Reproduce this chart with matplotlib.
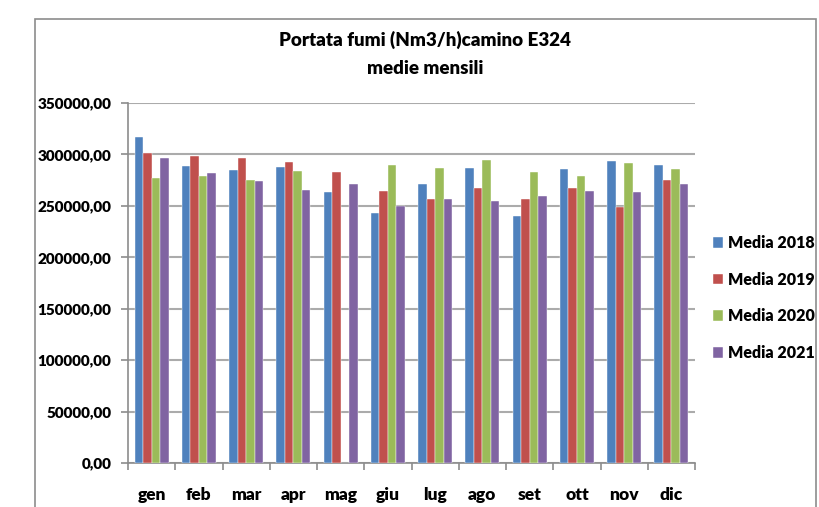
import numpy as np
import matplotlib.pyplot as plt
from matplotlib.patches import Rectangle
from matplotlib.ticker import FuncFormatter

plt.rcParams['font.family'] = ['Lato', 'DejaVu Sans']

mesi = ['gen', 'feb', 'mar', 'apr', 'mag', 'giu', 'lug', 'ago', 'set', 'ott', 'nov', 'dic']
media_2018 = [316600, 288300, 284400, 287600, 263900, 243500, 271000, 287000, 240500, 285400, 293800, 289600]
media_2019 = [301600, 298300, 296700, 292500, 282500, 264900, 257100, 267100, 257100, 267100, 248900, 275000]
media_2020 = [277200, 278600, 274900, 283700, 0, 289600, 287000, 294400, 282500, 279500, 291800, 286000]
media_2021 = [296100, 281800, 274300, 265200, 271700, 249900, 257100, 254500, 259400, 264500, 263300, 270800]

serie = [('Media 2018', media_2018, '#4F81BD'),
         ('Media 2019', media_2019, '#C0504D'),
         ('Media 2020', media_2020, '#9BBB59'),
         ('Media 2021', media_2021, '#8064A2')]

PESO = 'heavy'

fig = plt.figure(figsize=(8.19, 5.07), dpi=100)
W, H = 819, 507

# cornice grigia attorno al grafico
fig.patches.append(Rectangle((35 / W, -0.05), (816 - 35) / W, (507 - 19) / H + 0.05,
                             transform=fig.transFigure, fill=False,
                             edgecolor='#8C8C8C', linewidth=1.2))

ax = fig.add_axes([128 / W, 1 - 463 / H, (695 - 128) / W, (463 - 103) / H])

x = np.arange(len(mesi))
w = 0.18
for i, (nome, valori, colore) in enumerate(serie):
    ax.bar(x + (i - 1.5) * w, valori, w, color=colore, label=nome,
           edgecolor='white', linewidth=0.3, zorder=3)

ax.set_xlim(-0.5, len(mesi) - 0.5)
ax.set_ylim(0, 350000)
ax.set_yticks(np.arange(0, 350001, 50000))
ax.yaxis.set_major_formatter(FuncFormatter(lambda v, p: ('%.2f' % v).replace('.', ',')))
ax.set_xticks(x)
ax.set_xticklabels(mesi)
ax.set_xticks(np.arange(-0.5, len(mesi)), minor=True)
ax.tick_params(axis='x', which='major', length=0, pad=17, labelsize=12.5)
ax.tick_params(axis='x', which='minor', length=5, color='#8C8C8C', width=1.2)
ax.tick_params(axis='y', length=5, color='#8C8C8C', width=1.2, pad=7, labelsize=11)
for lab in ax.get_xticklabels() + ax.get_yticklabels():
    lab.set_fontweight(PESO)

ax.grid(axis='y', color='#ABABAB', linewidth=1.5, zorder=0)
for s in ['top', 'right']:
    ax.spines[s].set_visible(False)
for s in ['left', 'bottom']:
    ax.spines[s].set_color('#8C8C8C')
    ax.spines[s].set_linewidth(1.2)

fig.text(425 / W, 1 - 40 / H, 'Portata fumi (Nm3/h)camino E324', ha='center', va='center',
         fontsize=13.5, fontweight=PESO)
fig.text(425 / W, 1 - 68 / H, 'medie mensili', ha='center', va='center',
         fontsize=13.5, fontweight=PESO)

fig.legend(loc='center left', bbox_to_anchor=(713 / W, 1 - 298 / H), frameon=False,
           prop={'weight': PESO, 'size': 11.5}, handlelength=0.65, handleheight=0.65,
           handletextpad=0.3, labelspacing=1.3, borderpad=0, borderaxespad=0)

fig.savefig('out.png', dpi=100)
